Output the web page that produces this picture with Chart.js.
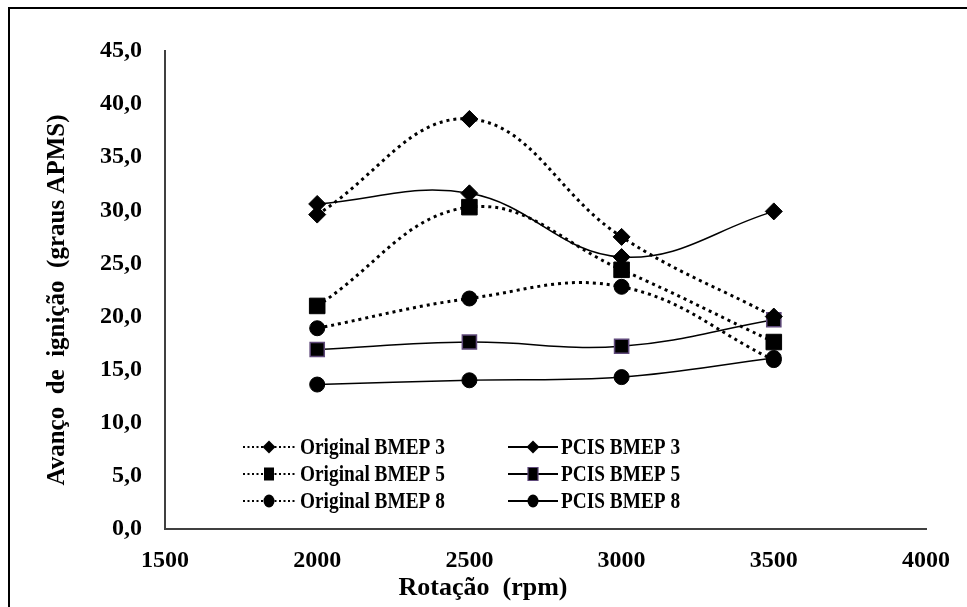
<!DOCTYPE html>
<html>
<head>
<meta charset="utf-8">
<script src="https://cdn.jsdelivr.net/npm/chart.js@4/dist/chart.umd.min.js"></script>
<style>
  html, body { margin: 0; padding: 0; background: #fff; }
  #c { display: block; }
</style>
</head>
<body>
<canvas id="c" width="967" height="607"></canvas>
<script>
// Engine speed (rpm) at which ignition advance was measured
const rpm = [2000, 2500, 3000, 3500];

// Ignition advance (degrees BTDC) for each map and load
const originalBmep3 = [29.6, 38.6, 27.5, 20.0];
const originalBmep5 = [21.0, 30.3, 24.4, 17.6];
const originalBmep8 = [18.9, 21.7, 22.8, 15.9];
const pcisBmep3 = [30.6, 31.6, 25.6, 29.9];
const pcisBmep5 = [16.9, 17.6, 17.2, 19.7];
const pcisBmep8 = [13.6, 14.0, 14.3, 16.1];

const seriesNames = [
  'Original BMEP 3', 'PCIS BMEP 3',
  'Original BMEP 5', 'PCIS BMEP 5',
  'Original BMEP 8', 'PCIS BMEP 8'
];

const xTicks = [1500, 2000, 2500, 3000, 3500, 4000];
const yTicks = [0, 5, 10, 15, 20, 25, 30, 35, 40, 45];

const xTitle = 'Rotação  (rpm)';
const yTitle = 'Avanço  de  ignição  (graus APMS)';

const SERIF = '"Liberation Serif", "Times New Roman", serif';
const DOT = [3, 4];
const PURPLE = '#5f497a';

function pts(values) {
  return rpm.map((r, i) => ({ x: r, y: values[i] }));
}

function series(label, values, dotted, style, radius, border) {
  return {
    label,
    data: pts(values),
    borderColor: '#000',
    borderWidth: dotted ? 3 : 1.5,
    borderDash: dotted ? DOT : [],
    tension: 0.4,
    fill: false,
    pointStyle: style,
    pointRadius: radius,
    pointBackgroundColor: '#000',
    pointBorderColor: border || '#000',
    pointBorderWidth: border ? 1.5 : 1,
    _dotted: dotted
  };
}

const datasets = [
  series(seriesNames[0], originalBmep3, true, 'rectRot', 8.5),
  series(seriesNames[1], pcisBmep3, false, 'rectRot', 8.5),
  series(seriesNames[2], originalBmep5, true, 'rect', 11),
  series(seriesNames[3], pcisBmep5, false, 'rect', 10, PURPLE),
  series(seriesNames[4], originalBmep8, true, 'circle', 7.5),
  series(seriesNames[5], pcisBmep8, false, 'circle', 7.5)
];

// Small marker used in the legend keys
function legendMarker(ctx, style, x, y, border) {
  ctx.save();
  ctx.fillStyle = '#000';
  ctx.beginPath();
  if (style === 'rectRot') {
    const r = 6.5;
    ctx.moveTo(x, y - r); ctx.lineTo(x + r, y); ctx.lineTo(x, y + r); ctx.lineTo(x - r, y);
    ctx.closePath();
  } else if (style === 'rect') {
    ctx.rect(x - 5, y - 6.5, 10, 13);
  } else {
    ctx.ellipse(x, y, 5.5, 6.5, 0, 0, Math.PI * 2);
  }
  ctx.fill();
  if (border) {
    ctx.strokeStyle = border;
    ctx.lineWidth = 1.2;
    ctx.stroke();
  }
  ctx.restore();
}

const decorations = {
  id: 'decorations',
  beforeDraw(chart) {
    const ctx = chart.ctx;
    ctx.save();
    ctx.fillStyle = '#fff';
    ctx.fillRect(0, 0, chart.width, chart.height);
    ctx.strokeStyle = '#000';
    ctx.lineWidth = 2;
    ctx.strokeRect(9, 8, chart.width + 10, chart.height + 10);
    ctx.restore();
  },
  afterDraw(chart) {
    const ctx = chart.ctx;
    ctx.save();
    ctx.fillStyle = '#000';

    // axis titles
    ctx.textAlign = 'center';
    ctx.textBaseline = 'middle';
    ctx.font = 'bold 26px ' + SERIF;
    ctx.fillText(xTitle, 483, 588);
    ctx.save();
    ctx.translate(58, 300);
    ctx.rotate(-Math.PI / 2);
    ctx.font = 'bold 25px ' + SERIF;
    ctx.fillText(yTitle, 0, 0);
    ctx.restore();

    // legend: two columns, three rows
    const rows = [447, 474, 501];
    const cols = [
      { x0: 243, x1: 297, mx: 269, tx: 300 },
      { x0: 508, x1: 558, mx: 533, tx: 561 }
    ];
    chart.data.datasets.forEach((ds, i) => {
      const c = cols[i % 2];
      const y = rows[Math.floor(i / 2)];
      ctx.save();
      ctx.strokeStyle = '#000';
      if (ds._dotted) {
        ctx.lineWidth = 2;
        ctx.setLineDash([2, 2.5]);
      } else {
        ctx.lineWidth = 1.8;
      }
      ctx.beginPath();
      ctx.moveTo(c.x0, y);
      ctx.lineTo(c.x1, y);
      ctx.stroke();
      ctx.restore();
      legendMarker(ctx, ds.pointStyle, c.mx, y, ds.pointBorderColor !== '#000' ? ds.pointBorderColor : null);

      ctx.save();
      ctx.translate(c.tx, y);
      ctx.scale(0.84, 1);
      ctx.font = 'bold 23px ' + SERIF;
      ctx.textAlign = 'left';
      ctx.textBaseline = 'middle';
      ctx.fillText(ds.label, 0, 1);
      ctx.restore();
    });
    ctx.restore();
  }
};

new Chart(document.getElementById('c'), {
  type: 'line',
  data: { datasets },
  options: {
    responsive: false,
    animation: false,
    devicePixelRatio: 1,
    layout: { padding: { left: 0, right: 35, top: 51, bottom: 0 } },
    plugins: {
      legend: { display: false },
      tooltip: { enabled: false }
    },
    scales: {
      x: {
        type: 'linear',
        min: xTicks[0],
        max: xTicks[xTicks.length - 1],
        afterBuildTicks(scale) { scale.ticks = xTicks.map(v => ({ value: v })); },
        afterFit(scale) { scale.height = 78; },
        grid: { display: false, drawTicks: false },
        border: { display: true, color: '#404040', width: 2 },
        ticks: {
          padding: 17,
          color: '#000',
          font: { family: SERIF, size: 24, weight: 'bold' },
          callback: v => String(v),
          maxRotation: 0
        }
      },
      y: {
        min: yTicks[0],
        max: yTicks[yTicks.length - 1],
        afterBuildTicks(scale) { scale.ticks = yTicks.map(v => ({ value: v })); },
        afterFit(scale) { scale.width = 165; },
        grid: { display: false, drawTicks: false },
        border: { display: true, color: '#404040', width: 2 },
        ticks: {
          padding: 23,
          color: '#000',
          font: { family: SERIF, size: 24, weight: 'bold' },
          callback: v => v.toFixed(1).replace('.', ',')
        }
      }
    }
  },
  plugins: [decorations]
});
</script>
</body>
</html>
